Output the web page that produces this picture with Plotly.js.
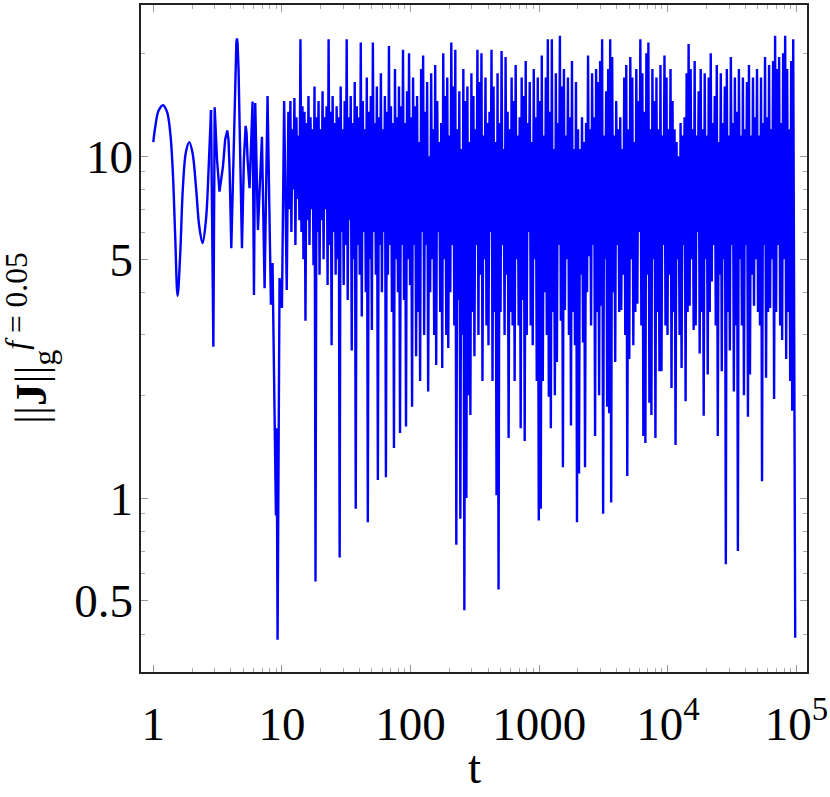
<!DOCTYPE html>
<html>
<head>
<meta charset="utf-8">
<script src="https://cdn.plot.ly/plotly-3.0.1.min.js"></script>
<style>
  html, body { margin: 0; padding: 0; background: #fff; }
  #plot { width: 830px; height: 797px; }
</style>
</head>
<body>
<div id="plot"></div>
<script>
// first slow oscillations, t = 1 .. 2.81 (drawn smoothed)
const tSmooth = [1.0, 1.036, 1.10, 1.19, 1.277, 1.355, 1.42, 1.48, 1.545, 1.62, 1.70, 1.795, 1.905, 2.02,
  2.146, 2.277, 2.415, 2.566, 2.69, 2.81];
const jSmooth = [11.0, 12.2, 13.6, 14.1, 13.5, 11.7, 8.9, 5.82, 3.9, 5.2, 8.15, 10.3, 11.0, 10.2,
  8.15, 6.23, 5.57, 6.51, 9.12, 13.65];

// then faster oscillations, t = 2.81 .. 10.9
const tEarly = [2.81, 2.93, 3.0, 3.13, 3.27, 3.48, 3.62, 3.76, 3.84, 3.92, 4.04, 4.26, 4.34, 4.42, 4.47,
  4.52, 4.6, 4.69, 4.89, 5.06, 5.14, 5.22, 5.31, 5.41, 5.6, 5.91, 6.06, 6.2, 6.51, 6.99, 7.33, 7.73, 8.21,
  8.45, 8.98, 9.1, 9.25, 9.58, 10.0, 10.4, 10.9];
const jEarly = [13.65, 2.77, 13.9, 9.75, 7.88, 9.33, 11.2, 11.9, 11.2, 9.12, 5.38, 11.4, 17.9, 21.4, 22.1,
  21.4, 17.9, 11.4, 5.38, 9.75, 11.7, 12.27, 11.7, 9.75, 8.06, 14.45, 3.93, 14.3, 6.09, 11.4, 4.11, 15.0, 3.68,
  4.87, 0.89, 1.6, 0.385, 4.4, 3.6, 14.5, 4.06];

// dense part: samples taken evenly in log t between these two exponents
const logTDenseStart = 1.05;
const logTDenseEnd = 4.99;
const jDense = [
  13.5, 7, 14.5, 6, 12, 8, 14.8, 5.5, 13, 7.5, 11.5, 6.5, 22, 6, 14, 5,
  13.5, 3.3, 12.5, 6.5, 15, 5.5, 13, 7, 12, 4.8, 16, 0.57, 13, 6, 14.5, 4.5,
  12, 6.5, 15.5, 5, 13, 7, 14, 4.2, 22, 5.5, 13.5, 2.8, 15, 6, 12.5, 4.5,
  14, 5, 13, 0.67, 16, 6, 12, 4.2, 14.5, 5.5, 22, 3.8, 13, 6.5, 15, 2.7,
  12.5, 5, 16.5, 0.93, 14, 5.5, 13, 4.5, 21.5, 3.4, 14.5, 6, 12, 4, 17, 0.85,
  13.5, 5, 15, 3.1, 21.5, 6, 12.5, 4.5, 16, 1.13, 13, 5.5, 17.5, 4, 12, 6,
  15, 1.15, 13.5, 4.5, 21, 5.5, 14, 3.5, 12.5, 1.4, 18, 5, 13, 4, 16, 1.55,
  14, 5.5, 20.5, 3.8, 12.5, 1.62, 15.5, 5, 20, 4.2, 13, 1.85, 17, 5.5, 14, 2.6,
  15, 3.5, 11, 2.2, 18, 6, 19.7, 3, 13.5, 5.5, 16.5, 2.05, 10, 4, 17.5, 5,
  12, 3, 18.5, 2.45, 14.5, 6, 11, 3.5, 12.5, 2.4, 20, 5, 15, 3, 17, 2.75,
  11.5, 4, 21.5, 5.5, 16, 3.2, 20.5, 0.73, 12, 3.8, 15.5, 0.87, 10.5, 3, 18, 0.47,
  14.5, 1.0, 16, 2.0, 11, 1.75, 17.5, 3.5, 15, 2.6, 12, 5.5, 20.5, 3, 16.5, 4.5,
  20, 2.2, 11.5, 5, 17, 3.2, 12.5, 2.8, 13.5, 6, 20.5, 2.2, 16, 3.5, 11, 1.02,
  17.5, 0.54, 12.5, 3.5, 20.3, 5.5, 10.5, 3, 19.5, 4.5, 13.5, 1.5, 12, 3.5, 17, 3.2,
  14.5, 2.2, 18.5, 5, 11.5, 3.2, 13, 1.6, 17, 3.8, 15, 1.47, 19, 3, 12.5, 6,
  16.5, 3.2, 11, 2.8, 18, 5, 13, 2.2, 17, 0.86, 14.5, 0.93, 19.7, 2.2, 11.5, 4,
  17, 3, 22, 1.98, 13.5, 1.6, 22, 3.5, 10.5, 2.0, 17.5, 2.5, 12.5, 5.5, 22.5, 3.3,
  16, 1.23, 18, 3.55, 11.5, 5, 17, 3, 13, 1.63, 19, 3.5, 10.5, 2.8, 16.5, 0.85,
  12, 1.18, 10.5, 4.5, 13, 2.85, 11, 1.23, 12.5, 4, 19.7, 5.1, 12, 3.2, 17.5, 5.5,
  13, 1.52, 18, 3.5, 16.5, 2.0, 19, 3.65, 22, 0.9, 11.5, 5, 15.5, 1.85, 18, 1.77,
  22, 0.97, 19.5, 4, 11.5, 2.5, 14.5, 5.5, 12, 3.5, 13, 3.55, 10.5, 4.5, 17, 3,
  18.5, 1.16, 12, 2.55, 19.5, 5, 17, 2.8, 11, 3.5, 18, 3.7, 14.5, 6, 22, 3.2,
  17.5, 1.52, 13.5, 1.45, 20, 4.5, 21.5, 1.9, 12, 1.75, 18, 5, 14.5, 1.5, 17, 3.5,
  12, 2.35, 18.5, 2.35, 11.5, 5.5, 19.7, 3.2, 17, 3.0, 12, 4.5, 18, 2.1, 14.5, 3.5,
  12, 1.43, 11, 5, 10, 3, 12.5, 2.4, 11.5, 5.5, 13, 1.92, 17.5, 3.5, 21.3, 3.65,
  18, 5, 12, 3.1, 19, 3.2, 11.5, 6, 15.5, 2.65, 18, 3.5, 12, 1.74, 17.5, 5,
  11.5, 2.3, 17, 3.5, 20, 4.3, 12.5, 5.5, 15, 3.2, 18.5, 1.52, 11, 4.5, 17.5, 2.35,
  12.5, 5, 16, 0.64, 18, 3.5, 11.5, 2.7, 19.5, 5.5, 12.5, 2.05, 17, 3.2, 13.5, 0.7,
  18, 5, 11.5, 3.2, 17, 2.0, 12, 5.5, 16.5, 1.73, 18.5, 2.3, 11.5, 4.5, 17, 3.65,
  13, 5, 18, 3.5, 11.5, 3.2, 17, 1.12, 12.5, 5.5, 19.5, 2.25, 13, 3.5, 18.5, 3.6,
  12, 5, 19, 1.95, 22.5, 3.5, 18, 5.5, 19.5, 3.2, 12.5, 2.9, 20, 5, 22.5, 2.55,
  18, 3.5, 12, 2.2, 19, 1.8, 22, 3, 0.39
];

const xTickVals = [1, 10, 100, 1000, 1e4, 1e5];
const xTickText = ['1', '10', '100', '1000', '10<sup>4</sup>', '10<sup>5</sup>'];
const yTickVals = [0.5, 1, 5, 10];
const yTickText = ['0.5', '1', '5', '10'];

const tDense = jDense.map((_, i) =>
  Math.pow(10, logTDenseStart + i * (logTDenseEnd - logTDenseStart) / (jDense.length - 1)));

// minor ticks, Mathematica style (2..9 in every decade)
const xMinor = [];
for (let d = 0; d < 5; d++) for (let k = 2; k <= 9; k++) xMinor.push(k * Math.pow(10, d));
const yMinor = [0.4, 0.6, 0.7, 0.8, 0.9, 2, 3, 4, 6, 7, 8, 9, 20];

const FONT = "'Liberation Serif', 'Times New Roman', serif";
const BLUE = '#0000ff';

const traces = [
  {
    x: tSmooth, y: jSmooth,
    type: 'scatter', mode: 'lines',
    line: { color: BLUE, width: 2.4, shape: 'spline', smoothing: 1 },
    hoverinfo: 'skip'
  },
  {
    x: tEarly.concat(tDense), y: jEarly.concat(jDense),
    type: 'scatter', mode: 'lines',
    line: { color: BLUE, width: 2.4 },
    hoverinfo: 'skip'
  }
];

const axisCommon = {
  type: 'log',
  showgrid: false,
  zeroline: false,
  showline: true,
  linecolor: '#222',
  linewidth: 1.6,
  mirror: 'allticks',
  ticks: 'inside',
  ticklen: 7,
  tickwidth: 1,
  tickcolor: '#999',
  tickmode: 'array',
  tickfont: { family: FONT, size: 47, color: '#000' }
};

const layout = {
  width: 830,
  height: 797,
  margin: { l: 141, r: 23, t: 5, b: 125 },
  paper_bgcolor: '#fff',
  plot_bgcolor: '#fff',
  showlegend: false,
  xaxis: Object.assign({}, axisCommon, {
    range: [-0.0956, 5.0816],
    tickvals: xTickVals,
    ticktext: xTickText,
    ticklabelstandoff: 10,
    minor: { tickmode: 'array', tickvals: xMinor, ticks: 'inside', ticklen: 4, tickcolor: '#aaa', tickwidth: 1, showgrid: false }
  }),
  yaxis: Object.assign({}, axisCommon, {
    range: [-0.5088, 1.4424],
    tickvals: yTickVals,
    ticktext: yTickText,
    ticklabelstandoff: -3,
    minor: { tickmode: 'array', tickvals: yMinor, ticks: 'inside', ticklen: 4, tickcolor: '#aaa', tickwidth: 1, showgrid: false }
  }),
  annotations: [
    {
      text: 't',
      xref: 'paper', yref: 'paper',
      x: 0.5, y: -0.184,
      xanchor: 'center', yanchor: 'bottom',
      showarrow: false,
      font: { family: FONT, size: 47, color: '#000' }
    },
    {
      text: '||<b>J</b>||<sub>g</sub><sup><i>f</i> = 0.05</sup>',
      xref: 'paper', yref: 'paper',
      x: -0.1156, y: 0.5,
      xanchor: 'right', yanchor: 'middle',
      textangle: -90,
      showarrow: false,
      font: { family: FONT, size: 45, color: '#000' }
    }
  ]
};

Plotly.newPlot('plot', traces, layout, { staticPlot: true, displayModeBar: false });
</script>
</body>
</html>
